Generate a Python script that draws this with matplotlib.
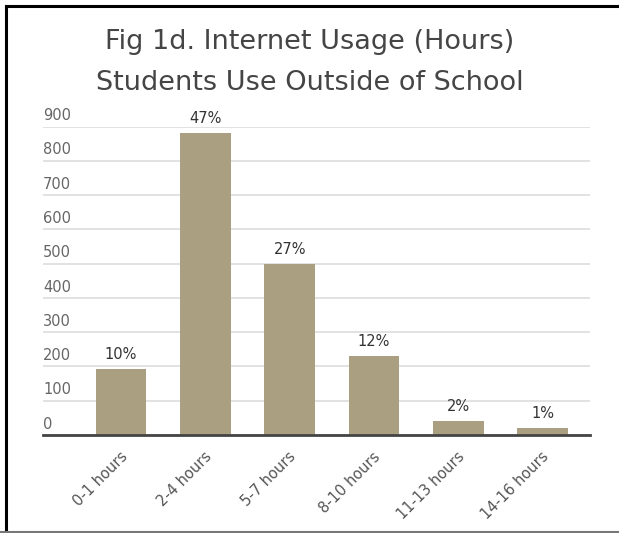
import matplotlib
matplotlib.use("Agg")
import matplotlib.pyplot as plt
import matplotlib.transforms as mtransforms
from matplotlib.lines import Line2D

categories = ["0-1 hours", "2-4 hours", "5-7 hours", "8-10 hours", "11-13 hours", "14-16 hours"]
values = [192, 883, 500, 232, 41, 20]
pct_labels = ["10%", "47%", "27%", "12%", "2%", "1%"]
yticks = [0, 100, 200, 300, 400, 500, 600, 700, 800, 900]
title_lines = ["Fig 1d. Internet Usage (Hours)", "Students Use Outside of School"]

plt.rcParams['font.family'] = ['DejaVu Sans']

fig = plt.figure(figsize=(6.19, 5.33), dpi=100)
ax = fig.add_axes([43/619, 1-435/533, (590-43)/619, (435-126.7)/533])

x = list(range(len(categories)))
bars = ax.bar(x, values, width=0.6, color="#ab9f82", zorder=2)
for xi, v, lab in zip(x, values, pct_labels):
    ax.annotate(lab, (xi, v), xytext=(0, 5), textcoords="offset points",
                ha="center", va="bottom", fontsize=10.5, color="#333333")

ax.set_xlim(-0.925, 5.56)
ax.set_ylim(0, 900)
ax.set_yticks(yticks)
ax.set_yticklabels([str(t) for t in yticks])
ax.yaxis.grid(True, color="#dddddd", linewidth=1.2, zorder=0)
ax.tick_params(axis="y", length=0, pad=0, labelsize=10.5, labelcolor="#666666")
for lbl in ax.get_yticklabels():
    lbl.set_ha("left")
    lbl.set_va("bottom")
    lbl.set_transform(lbl.get_transform() + mtransforms.ScaledTranslation(0, 2.5/72, fig.dpi_scale_trans))

ax.set_xticks(x)
ax.set_xticklabels(categories, rotation=45, ha="right", rotation_mode="anchor",
                   fontsize=10.5, color="#555555")
ax.tick_params(axis="x", length=0, pad=10)
for lbl in ax.get_xticklabels():
    lbl.set_transform(lbl.get_transform() + mtransforms.ScaledTranslation(-1/72, 0, fig.dpi_scale_trans))

for s in ["top", "right", "left"]:
    ax.spines[s].set_visible(False)
ax.spines["bottom"].set_color("#444444")
ax.spines["bottom"].set_linewidth(2)
ax.spines["bottom"].set_zorder(3)

fig.text(0.5, 1-49/533, title_lines[0], ha="center", va="baseline",
         fontsize=19.5, color="#454545")
fig.text(0.5, 1-90/533, title_lines[1], ha="center", va="baseline",
         fontsize=19.5, color="#454545")

# frame lines
fig.add_artist(Line2D([6/619, 1], [1-6/533, 1-6/533], color="black", linewidth=2.2, transform=fig.transFigure))
fig.add_artist(Line2D([6/619, 6/619], [1-6/533, 0], color="black", linewidth=2.2, transform=fig.transFigure))
fig.add_artist(Line2D([0, 1], [1.2/533, 1.2/533], color="#777777", linewidth=1.5, transform=fig.transFigure))

fig.savefig("out.png", dpi=100)
